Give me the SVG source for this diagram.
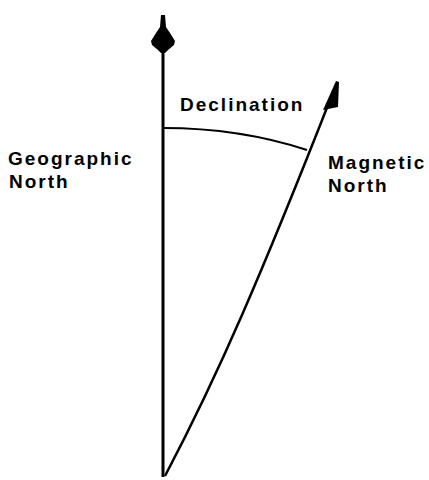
<svg xmlns="http://www.w3.org/2000/svg" width="429" height="480" viewBox="0 0 429 480">
<style>
.ln{fill:none;stroke:#000;stroke-linecap:butt}
.hd{fill:#000;stroke:none}
.lb{font-family:"Liberation Sans",Arial,sans-serif;font-weight:bold;font-size:19px;letter-spacing:2px;fill:#000}
</style>
<rect width="429" height="480" fill="#fff"/>
<g id="connectors">
<path class="ln" stroke-width="3" d="M163,20 L163,477"/>
<path class="ln" stroke-width="2.5" d="M165,476 Q205,400 242,315 T330,100"/>
<path class="ln" stroke-width="2" d="M163,128 Q240,128 307,150"/>
</g>
<g id="geographic-north">
<path class="hd" d="M161,15 L165,15 L166,27 L170,33 L175,41 L174,45 L168,50 L165,53 L161,53 L158,50 L152,45 L151,41 L156,33 L160,27 Z"/>
<text class="lb" x="8" y="165">Geographic</text>
<text class="lb" x="9" y="188">North</text>
</g>
<g id="magnetic-north">
<path class="hd" d="M336,81 L339,82 L338,107 L323,110 Z"/>
<text class="lb" x="328" y="169">Magnetic</text>
<text class="lb" x="328" y="192">North</text>
</g>
<g id="declination">
<text class="lb" x="180" y="111">Declination</text>
</g>
</svg>
